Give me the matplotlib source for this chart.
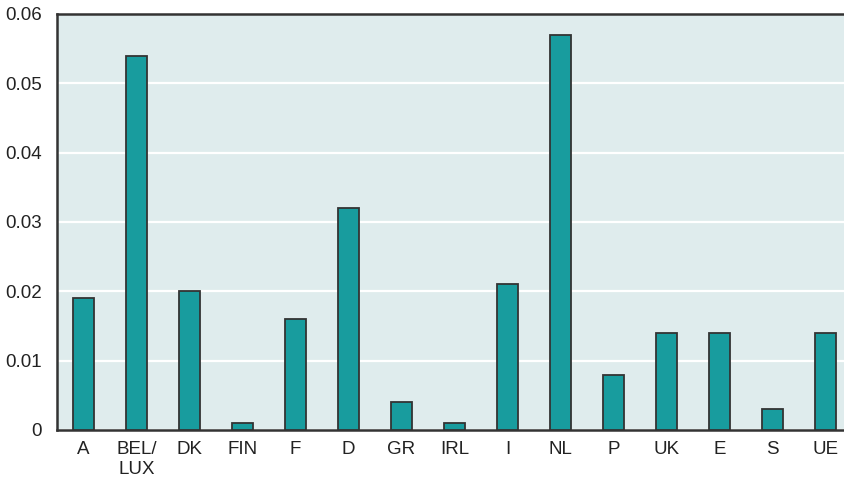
import numpy as np
import matplotlib.pyplot as plt

plt.rcParams['font.family'] = ['Liberation Sans Narrow', 'Liberation Sans', 'DejaVu Sans']

countries = ['A', 'BEL/\nLUX', 'DK', 'FIN', 'F', 'D', 'GR', 'IRL', 'I', 'NL',
             'P', 'UK', 'E', 'S', 'UE']
values = [0.019, 0.054, 0.020, 0.001, 0.016, 0.032, 0.004, 0.001, 0.021, 0.057,
          0.008, 0.014, 0.014, 0.003, 0.014]
yticks = [0, 0.01, 0.02, 0.03, 0.04, 0.05, 0.06]
ytick_labels = ['0', '0.01', '0.02', '0.03', '0.04', '0.05', '0.06']

W, H = 845, 479
fig = plt.figure(figsize=(W / 100, H / 100), dpi=100)
# plot area runs slightly past the right edge of the picture
ax = fig.add_axes([57 / W, 1 - 430 / H, 795 / W, 416 / H])
ax.set_facecolor('#dfeced')

x = np.arange(len(countries))
ax.bar(x, values, width=0.38, color='#189c9e', edgecolor='#333333', linewidth=1.3, zorder=3)

ax.set_xlim(-0.5, len(countries) - 0.5)
ax.set_ylim(0, 0.06)
ax.set_yticks(yticks)
ax.set_yticklabels(ytick_labels)
ax.set_xticks(x)
ax.set_xticklabels(countries, linespacing=1.2)
ax.grid(axis='y', color='white', linewidth=1.6, zorder=1)
ax.set_axisbelow(True)

ax.tick_params(axis='both', length=0, labelsize=13.5, colors='#222222')
ax.tick_params(axis='x', pad=8)
ax.tick_params(axis='y', pad=11)
for s in ['left', 'top', 'bottom']:
    ax.spines[s].set_color('#333333')
    ax.spines[s].set_linewidth(1.8)
ax.spines['right'].set_visible(False)

fig.savefig('out.png', dpi=100)
